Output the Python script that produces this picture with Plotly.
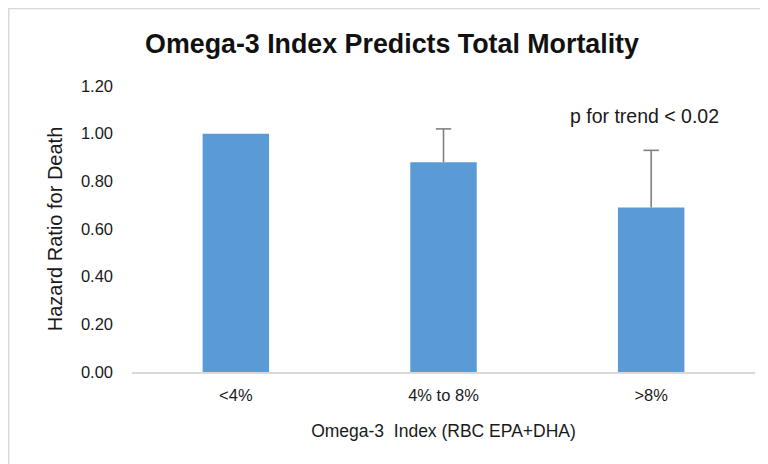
import plotly.graph_objects as go

categories = ["<4%", "4% to 8%", ">8%"]
hazard_ratio = [1.00, 0.88, 0.69]
upper_error = [0.0, 0.14, 0.24]
y_ticks = [0.0, 0.2, 0.4, 0.6, 0.8, 1.0, 1.2]
y_tick_labels = ["0.00", "0.20", "0.40", "0.60", "0.80", "1.00", "1.20"]

W, H = 768, 464
OFF = 8  # page body margin in the browser
# target screen positions of plot area
sx0, sx1, sy_top, sy_zero = 132, 755, 85.5, 372.5
L = sx0 - OFF
R = W - (sx1 - OFF)
T = sy_top - OFF
B = H - (sy_zero - OFF)
pw, ph = W - L - R, H - T - B

def px(x):  # screen x -> paper
    return (x - OFF - L) / pw

def py(y):  # screen y -> paper
    return (sy_zero - y) / ph

FONT = "Liberation Sans, Arial, sans-serif"
ERR_COLOR = "#808080"

cap_tops = [h + e if e > 0 else None for h, e in zip(hazard_ratio, upper_error)]

fig = go.Figure()
fig.add_trace(go.Bar(
    x=categories, y=hazard_ratio,
    marker=dict(color="#5b9bd5", line=dict(width=0)),
    error_y=dict(type="data", symmetric=False, array=upper_error,
                 arrayminus=[0, 0, 0], color=ERR_COLOR, thickness=1.6, width=0),
    width=0.32,
))
fig.add_trace(go.Scatter(
    x=categories, y=cap_tops, mode="markers",
    marker=dict(symbol="line-ew", size=11, line=dict(color=ERR_COLOR, width=1.6)),
    hoverinfo="skip",
))

fig.update_layout(
    width=W, height=H,
    margin=dict(l=L, r=R, t=T, b=B),
    paper_bgcolor="white", plot_bgcolor="white",
    showlegend=False,
    font=dict(family=FONT, color="#1a1a1a", size=17),
    title=dict(text="<b>Omega-3 Index Predicts Total Mortality</b>",
               x=(392 - OFF) / W, xanchor="center", y=1 - (44 - OFF) / H, yanchor="middle",
               font=dict(size=26.8, color="#111111", family=FONT)),
    xaxis=dict(showgrid=False, showline=True, linecolor="#d9d9d9", linewidth=1.5,
               ticks="", ticklabelstandoff=7, tickfont=dict(size=16.5),
               automargin=False,
               title=dict(text="Omega-3  Index (RBC EPA+DHA)", standoff=22,
                          font=dict(size=17.5))),
    yaxis=dict(range=[0, 1.2], tickvals=y_ticks, ticktext=y_tick_labels,
               showgrid=False, showline=False, zeroline=False,
               ticks="", ticklabelstandoff=18, tickfont=dict(size=16.5),
               automargin=False,
               title=dict(text="Hazard Ratio for Death", standoff=12,
                          font=dict(size=20))),
    annotations=[dict(text="p for trend < 0.02", xref="paper", yref="paper",
                      x=px(644.5), y=py(116),
                      xanchor="center", yanchor="middle", showarrow=False,
                      font=dict(size=19.5))],
    shapes=[dict(type="rect", xref="paper", yref="paper",
                 x0=px(8.7), x1=px(W + 20),
                 y0=py(H + 20), y1=py(7.7),
                 line=dict(color="#d9d9d9", width=1.5), layer="below")],
)

fig.write_html("out.html")
